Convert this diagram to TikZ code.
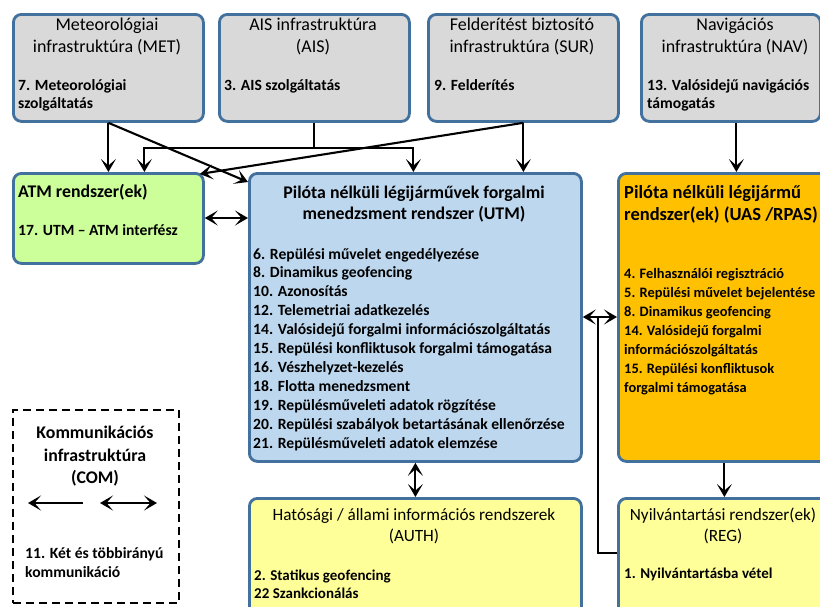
\documentclass[tikz,border=0pt]{standalone}
\usepackage{fontspec}
\setmainfont{Carlito}
\usetikzlibrary{arrows.meta}
\definecolor{bord}{HTML}{41719C}
\definecolor{greyf}{HTML}{D9D9D9}
\definecolor{greenf}{HTML}{CCFF99}
\definecolor{bluef}{HTML}{BDD7EE}
\definecolor{orangef}{HTML}{FFC000}
\definecolor{yellowf}{HTML}{FFFF99}
\begin{document}
\begin{tikzpicture}[x=1pt,y=-1pt,
  box/.style={draw=bord, line width=2.8pt, rounded corners=8pt, inner sep=0pt, anchor=north west},
  ttl/.style={font=\fontsize{18}{21}\selectfont, inner sep=0pt, anchor=base},
  ttls/.style={font=\fontsize{17.2}{21}\selectfont, inner sep=0pt, anchor=base},
  ttlb/.style={font=\fontsize{17.8}{21}\selectfont\bfseries, inner sep=0pt, anchor=base},
  itm/.style={font=\fontsize{15.6}{19}\selectfont\bfseries, inner sep=0pt, anchor=base west},
  itms/.style={font=\fontsize{15}{19}\selectfont\bfseries, inner sep=0pt, anchor=base west},
  arr/.style={line width=2.1pt, -{Stealth[length=13pt,width=15pt,inset=6.5pt]}},
  darr/.style={line width=2.1pt, {Stealth[length=13pt,width=15pt,inset=6.5pt]}-{Stealth[length=13pt,width=15pt,inset=6.5pt]}}]
\useasboundingbox (0,0) rectangle (820,606);
\clip (0,0) rectangle (820,606);
\fill[white] (0,0) rectangle (820,606);

% boxes
\node[box, fill=greyf, minimum width=190pt, minimum height=107pt] (met) at (12,13) {};
\node[box, fill=greyf, minimum width=190pt, minimum height=107pt] (ais) at (218,13) {};
\node[box, fill=greyf, minimum width=190pt, minimum height=107pt] (sur) at (427,13) {};
\node[box, fill=greyf, minimum width=179pt, minimum height=107pt] (nav) at (640,13) {};
\node[box, fill=greenf, minimum width=190pt, minimum height=90pt] (atm) at (12,172) {};
\node[box, fill=bluef, minimum width=332pt, minimum height=288pt] (utm) at (248,172) {};
\node[box, fill=orangef, minimum width=212pt, minimum height=288pt] (uas) at (617,172) {};
\node[box, fill=yellowf, minimum width=332pt, minimum height=140pt] (auth) at (248,497) {};
\node[box, fill=yellowf, minimum width=212pt, minimum height=140pt] (reg) at (617,497) {};
\node[draw, line width=1.8pt, dash pattern=on 8pt off 5pt, inner sep=0pt, anchor=north west,
      minimum width=166pt, minimum height=193pt] (com) at (12,409) {};

% MET
\node[ttl] (met1) at (107,30) {Meteorológiai};
\node[ttl] (met2) at (107,52) {infrastruktúra (MET)};
\node[itm] (met3) at (18,90) {7. Meteorológiai};
\node[itm] (met4) at (18,108) {szolgáltatás};
% AIS
\node[ttl] (ais1) at (313,30) {AIS infrastruktúra};
\node[ttl] (ais2) at (313,52) {(AIS)};
\node[itm] (ais3) at (224,90) {3. AIS szolgáltatás};
% SUR
\node[ttl] (sur1) at (522,30) {Felderítést biztosító};
\node[ttl] (sur2) at (522,52) {infrastruktúra (SUR)};
\node[itm] (sur3) at (434,90) {9. Felderítés};
% NAV
\node[ttl] (nav1) at (735,30) {Navigációs};
\node[ttl] (nav2) at (735,52) {infrastruktúra (NAV)};
\node[itm] (nav3) at (647,90) {13. Valósidejű navigációs};
\node[itm] (nav4) at (647,108) {támogatás};
% ATM
\node[ttlb, anchor=base west] (atm1) at (18,197) {ATM rendszer(ek)};
\node[itm] (atm2) at (18,235) {17. UTM – ATM interfész};
% UTM
\node[ttlb] (utm1) at (414,198) {Pilóta nélküli légijárművek forgalmi};
\node[ttlb] (utm2) at (414,219) {menedzsment rendszer (UTM)};
\foreach \t [count=\i] in {6. Repülési művelet engedélyezése, 8. Dinamikus geofencing,
  10. Azonosítás, 12. Telemetriai adatkezelés, 14. Valósidejű forgalmi információszolgáltatás,
  15. Repülési konfliktusok forgalmi támogatása, 16. Vészhelyzet-kezelés, 18. Flotta menedzsment,
  19. Repülésműveleti adatok rögzítése, 20. Repülési szabályok betartásának ellenőrzése,
  21. Repülésműveleti adatok elemzése}
  \node[itm] (utmi\i) at (253,{259+18.9*(\i-1)}) {\t};
% UAS
\node[ttlb, font=\fontsize{18.5}{22}\selectfont\bfseries, anchor=base west] (uas1) at (624,198) {Pilóta nélküli légijármű};
\node[ttlb, font=\fontsize{18.5}{22}\selectfont\bfseries, anchor=base west] (uas2) at (624,220) {rendszer(ek) (UAS /RPAS)};
\foreach \t [count=\i] in {4. Felhasználói regisztráció, 5. Repülési művelet bejelentése,
  8. Dinamikus geofencing, 14. Valósidejű forgalmi, információszolgáltatás,
  15. Repülési konfliktusok, forgalmi támogatása}
  \node[itm, font=\fontsize{14.4}{19}\selectfont\bfseries] (uasi\i) at (624,{278+19*(\i-1)}) {\t};
% AUTH
\node[ttls] (auth1) at (414,520) {Hatósági / állami információs rendszerek};
\node[ttls] (auth2) at (414,541) {(AUTH)};
\node[itms] (auth3) at (254,580) {2. Statikus geofencing};
\node[itms] (auth4) at (254,598) {22 Szankcionálás};
% REG
\node[ttls] (reg1) at (723,520) {Nyilvántartási rendszer(ek)};
\node[ttls] (reg2) at (723,541) {(REG)};
\node[itms] (reg3) at (624,578) {1. Nyilvántartásba vétel};
% COM
\node[ttlb] (com1) at (95,438) {Kommunikációs};
\node[ttlb] (com2) at (95,461) {infrastruktúra};
\node[ttlb] (com3) at (95,483) {(COM)};
\node[itm] (com4) at (25,558) {11. Két és többirányú};
\node[itm] (com5) at (25,577) {kommunikáció};
\coordinate (ca1) at (83,503);
\coordinate (ca2) at (28,503);
\coordinate (cb1) at (100,503);
\coordinate (cb2) at (157,503);
\draw[arr] (ca1) -- (ca2);
\draw[darr] (cb1) -- (cb2);

% connectors
\draw[arr] (met.south) -- (atm.north);
\draw[arr] (met.south) -- ([yshift=-10pt]utm.north west);
\draw[arr] (ais.south) -- ++(0,25) -| ([xshift=36pt]atm.north);
\draw[arr] (ais.south) -- ++(0,25) -| ([xshift=-2pt]utm.north);
\draw[arr] (sur.south) -- (sur.south |- utm.north);
\draw[arr] (sur.south) -- ([xshift=-5pt,yshift=-2pt]atm.north east);
\draw[arr] ([xshift=5.5pt]nav.south) -- ([xshift=5.5pt]nav.south |- uas.north);
\draw[darr] ([yshift=-46pt]atm.north east) -- ([yshift=-46pt]atm.north east -| utm.west);
\coordinate (jn) at (598,317);
\draw[darr] (utm.east |- jn) -- (uas.west |- jn);
\draw[line width=2.1pt] ([yshift=-56pt]reg.north west) -| (jn);
\draw[arr] (uas.south) -- (reg.north);
\draw[darr] (utm.south) -- (auth.north);
\end{tikzpicture}
\end{document}
